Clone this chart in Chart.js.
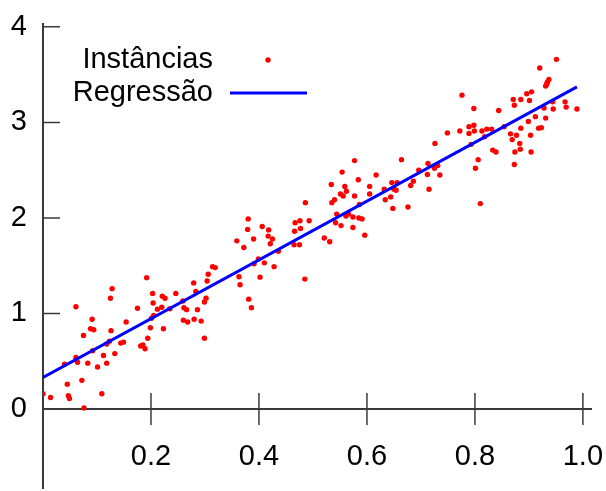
<!DOCTYPE html>
<html>
<head>
<meta charset="utf-8">
<script src="https://cdn.jsdelivr.net/npm/chart.js@4/dist/chart.umd.min.js"></script>
<style>
  body { margin: 0; background: #fff; }
  canvas { display: block; }
</style>
</head>
<body>
<canvas id="chart" width="606" height="491"></canvas>
<script>
// instances (x, y)
const instX = [
  0.128, 0.125, 0.061, 0.091, 0.154, 0.088, 0.094, 0.126, 0.075, 0.123,
  0.118, 0.144, 0.149, 0.092, 0.133, 0.112, 0.061, 0.064, 0.040, 0.083,
  0.118, 0.101, 0.072, 0.045, 0.109, 0.000, 0.014, 0.047, 0.049, 0.076,
  0.314, 0.319, 0.306, 0.192, 0.304, 0.279, 0.283, 0.203, 0.246, 0.221,
  0.226, 0.302, 0.204, 0.299, 0.259, 0.175, 0.212, 0.220, 0.261, 0.266,
  0.235, 0.286, 0.205, 0.201, 0.260, 0.268, 0.280, 0.293, 0.199, 0.223,
  0.194, 0.299, 0.181, 0.185, 0.189,
  0.486, 0.380, 0.467, 0.476, 0.493, 0.379, 0.406, 0.418, 0.466, 0.477,
  0.417, 0.425, 0.390, 0.359, 0.421, 0.465, 0.475, 0.372, 0.436, 0.399,
  0.410, 0.391, 0.428, 0.363, 0.402, 0.485, 0.365, 0.381, 0.386,
  0.577, 0.664, 0.554, 0.617, 0.584, 0.534, 0.559, 0.562, 0.605, 0.646,
  0.656, 0.632, 0.650, 0.654, 0.605, 0.551, 0.556, 0.577, 0.540, 0.535,
  0.644, 0.634, 0.586, 0.648, 0.544, 0.561, 0.566, 0.574, 0.585, 0.591,
  0.542, 0.552, 0.574, 0.596, 0.521, 0.531,
  0.749, 0.772, 0.789, 0.798, 0.789, 0.799, 0.813, 0.822, 0.831, 0.818,
  0.726, 0.793, 0.833, 0.806, 0.713, 0.725, 0.731, 0.696, 0.801, 0.712,
  0.735, 0.686, 0.681, 0.715, 0.810, 0.676, 0.776, 0.798,
  0.951, 0.920, 0.937, 0.934, 0.933, 0.931, 0.896, 0.905, 0.871, 0.873,
  0.885, 0.901, 0.967, 0.969, 0.944, 0.928, 0.945, 0.989, 0.844, 0.912,
  0.931, 0.899, 0.854, 0.885, 0.918, 0.923, 0.866, 0.877, 0.903, 0.869,
  0.883, 0.884, 0.839, 0.874, 0.904, 0.873
];
const instY = [
  1.26, 1.16, 1.07, 0.94, 0.91, 0.84, 0.83, 0.82, 0.77, 0.71,
  0.68, 0.69, 0.70, 0.61, 0.58, 0.56, 0.54, 0.49, 0.47, 0.48,
  0.48, 0.44, 0.30, 0.26, 0.16, 0.16, 0.12, 0.14, 0.11, 0.01,
  1.49, 1.48, 1.41, 1.375, 1.34, 1.32, 1.23, 1.21, 1.21, 1.18,
  1.16, 1.16, 1.11, 1.12, 1.13, 1.055, 1.045, 1.065, 1.06, 1.04,
  1.05, 1.04, 0.98, 0.95, 0.93, 0.91, 0.94, 0.92, 0.85, 0.84,
  0.74, 0.74, 0.66, 0.67, 0.63,
  2.16, 1.99, 1.95, 1.97, 1.97, 1.88, 1.91, 1.875, 1.86, 1.89,
  1.81, 1.78, 1.78, 1.76, 1.73, 1.72, 1.72, 1.69, 1.65, 1.57,
  1.53, 1.52, 1.49, 1.385, 1.38, 1.36, 1.30, 1.15, 1.06,
  2.60, 2.61, 2.48, 2.45, 2.40, 2.35, 2.33, 2.28, 2.33, 2.37,
  2.37, 2.30, 2.30, 2.29, 2.25, 2.25, 2.23, 2.23, 2.19, 2.16,
  2.22, 2.19, 2.14, 2.10, 2.04, 2.02, 2.04, 2.01, 2.00, 1.99,
  1.95, 1.92, 1.90, 1.82, 1.79, 1.75,
  2.89, 2.91, 2.955, 2.97, 2.885, 2.91, 2.91, 2.93, 2.93, 2.85,
  2.78, 2.77, 2.71, 2.61, 2.57, 2.52, 2.55, 2.50, 2.52, 2.455,
  2.45, 2.385, 2.34, 2.30, 2.15, 2.115, 3.285, 3.145,
  3.66, 3.57, 3.45, 3.42, 3.40, 3.38, 3.30, 3.32, 3.24, 3.18,
  3.24, 3.23, 3.215, 3.16, 3.215, 3.15, 3.14, 3.14, 3.125, 3.06,
  3.045, 3.01, 2.955, 2.94, 2.94, 2.945, 2.88, 2.865, 2.865, 2.82,
  2.78, 2.72, 2.69, 2.69, 2.69, 2.56
];
// regression line end points
const regX = [0.0, 0.989];
const regY = [0.33, 3.372];

const xTicks = [0.2, 0.4, 0.6, 0.8, 1.0];
const yTicks = [0, 1, 2, 3, 4];
const labels = ['Instâncias', 'Regressão'];

const FONT = '"Liberation Sans", Arial, sans-serif';
const AXIS = '#3a3a3a';

const instances = instX.map((x, i) => ({x: x, y: instY[i]}));
const regression = regX.map((x, i) => ({x: x, y: regY[i]}));

// gnuplot style tick marks: x ticks cross the axis, y ticks point inward
const tickMarks = {
  id: 'tickMarks',
  afterDraw(chart) {
    const ctx = chart.ctx;
    const xs = chart.scales.x, ys = chart.scales.y;
    const y0 = ys.getPixelForValue(0);
    const x0 = xs.getPixelForValue(0);
    ctx.save();
    ctx.strokeStyle = AXIS;
    ctx.lineWidth = 1.5;
    ctx.beginPath();
    xTicks.forEach(v => {
      const p = xs.getPixelForValue(v);
      ctx.moveTo(p, y0 - 16);
      ctx.lineTo(p, y0 + 16);
    });
    yTicks.forEach(v => {
      const p = ys.getPixelForValue(v);
      ctx.moveTo(x0, p);
      ctx.lineTo(x0 + 17, p);
    });
    ctx.stroke();
    ctx.restore();
  }
};

// legend with text on the left and sample on the right
const sideLegend = {
  id: 'sideLegend',
  afterDraw(chart) {
    const ctx = chart.ctx;
    const ds = chart.data.datasets;
    ctx.save();
    ctx.font = '29px ' + FONT;
    ctx.fillStyle = '#000';
    ctx.textAlign = 'right';
    ctx.textBaseline = 'middle';
    ctx.fillText(ds[0].label, 213, 60);
    ctx.fillText(ds[1].label, 213, 93);
    ctx.fillStyle = ds[0].backgroundColor;
    ctx.beginPath();
    ctx.arc(268, 60, ds[0].pointRadius, 0, Math.PI * 2);
    ctx.fill();
    ctx.strokeStyle = ds[1].borderColor;
    ctx.lineWidth = ds[1].borderWidth;
    ctx.beginPath();
    ctx.moveTo(230, 93);
    ctx.lineTo(307, 93);
    ctx.stroke();
    ctx.restore();
  }
};

const ctx = document.getElementById('chart').getContext('2d');
new Chart(ctx, {
  type: 'scatter',
  data: {
    datasets: [
      {
        label: labels[0],
        data: instances,
        backgroundColor: '#ff0000',
        borderWidth: 0,
        pointRadius: 2.7,
        pointHoverRadius: 2.7,
        order: 1
      },
      {
        type: 'line',
        label: labels[1],
        data: regression,
        borderColor: '#0000ff',
        borderWidth: 3,
        pointRadius: 0,
        fill: false,
        order: 0
      }
    ]
  },
  options: {
    responsive: false,
    animation: false,
    layout: { padding: { top: 24, right: 15, bottom: 0, left: 0 } },
    plugins: {
      legend: { display: false },
      tooltip: { enabled: false }
    },
    scales: {
      x: {
        type: 'linear',
        position: { y: 0 },
        min: 0,
        max: 1.015,
        afterBuildTicks: s => { s.ticks = xTicks.map(v => ({value: v})); },
        afterFit: s => { s.height = 0; s.paddingLeft = 0; s.paddingRight = 0; },
        grid: { display: false, drawTicks: false },
        border: { display: true, color: AXIS, width: 2 },
        ticks: {
          padding: 31,
          color: '#000',
          font: { family: FONT, size: 29 },
          maxRotation: 0,
          callback: v => v.toFixed(1)
        }
      },
      y: {
        type: 'linear',
        min: -0.83,
        max: 4.03,
        afterBuildTicks: s => { s.ticks = yTicks.map(v => ({value: v})); },
        afterFit: s => { s.width = 43; s.paddingTop = 0; s.paddingBottom = 0; },
        grid: { display: false, drawTicks: false },
        border: { display: true, color: AXIS, width: 2 },
        ticks: {
          padding: 16,
          color: '#000',
          font: { family: FONT, size: 29 },
          callback: v => String(v)
        }
      }
    }
  },
  plugins: [tickMarks, sideLegend]
});
</script>
</body>
</html>
